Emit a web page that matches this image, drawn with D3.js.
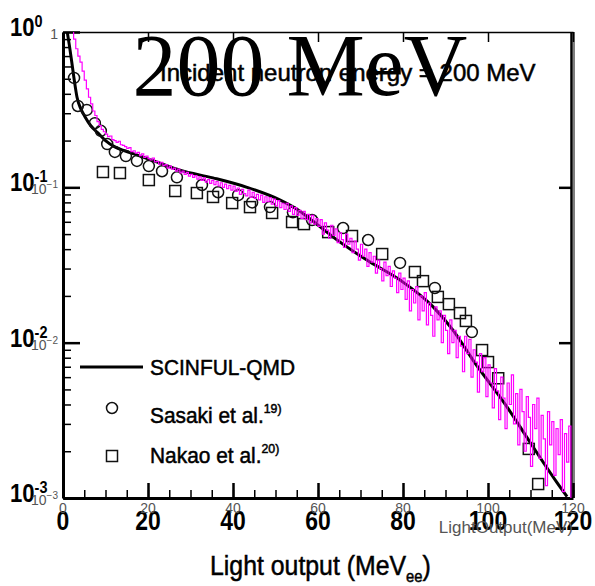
<!DOCTYPE html>
<html>
<head>
<meta charset="utf-8">
<script src="https://cdn.jsdelivr.net/npm/d3@7"></script>
<style>
  body { margin: 0; background: #fff; }
  text { font-family: "Liberation Sans", Arial, sans-serif; }
</style>
</head>
<body>
<div id="chart"></div>
<script>
// ---- data ----
// ROOT histogram (magenta), 0.5 MeV bins from 0 to 120 MeV
var binWidth = 0.5;
var magentaBins = [
  2.5, 2.0, 1.6, 1.3, 1.05, 0.90, 0.78, 0.70, 0.64, 0.56,
  0.49, 0.43, 0.38, 0.345, 0.31, 0.29, 0.265, 0.25, 0.236, 0.228,
  0.22, 0.212, 0.214, 0.203, 0.200, 0.195, 0.198, 0.188, 0.186, 0.183,
  0.178, 0.180, 0.170, 0.172, 0.166, 0.168, 0.160, 0.164, 0.156, 0.159,
  0.153, 0.150, 0.154, 0.146, 0.147, 0.141, 0.145, 0.138, 0.140, 0.133,
  0.137, 0.131, 0.133, 0.127, 0.131, 0.124, 0.127, 0.121, 0.125, 0.118,
  0.121, 0.116, 0.119, 0.113, 0.117, 0.111, 0.115, 0.108, 0.112, 0.106,
  0.111, 0.104, 0.109, 0.102, 0.107, 0.100, 0.105, 0.098, 0.103, 0.096,
  0.102, 0.094, 0.099, 0.090, 0.097, 0.091, 0.088, 0.096, 0.086, 0.093,
  0.085, 0.090, 0.083, 0.089, 0.080, 0.087, 0.081, 0.086, 0.078, 0.084,
  0.076, 0.082, 0.074, 0.079, 0.072, 0.079, 0.070, 0.076, 0.067, 0.074,
  0.066, 0.071, 0.063, 0.070, 0.062, 0.067, 0.059, 0.066, 0.058, 0.063,
  0.056, 0.062, 0.050, 0.059, 0.053, 0.047, 0.057, 0.049, 0.054, 0.044,
  0.051, 0.046, 0.041, 0.050, 0.043, 0.047, 0.038, 0.045, 0.040, 0.034,
  0.043, 0.036, 0.040, 0.031, 0.038, 0.033, 0.036, 0.028, 0.034, 0.030,
  0.025, 0.033, 0.027, 0.031, 0.023, 0.029, 0.026, 0.021, 0.028, 0.022,
  0.026, 0.019, 0.025, 0.016, 0.022, 0.018, 0.023, 0.014, 0.020, 0.016,
  0.021, 0.013, 0.018, 0.015, 0.011, 0.017, 0.014, 0.016, 0.010, 0.015,
  0.012, 0.0085, 0.014, 0.010, 0.012, 0.008, 0.011, 0.0095, 0.0065, 0.011,
  0.0085, 0.0105, 0.006, 0.009, 0.0075, 0.0048, 0.0085, 0.0065, 0.008, 0.0045,
  0.0072, 0.0055, 0.0038, 0.0068, 0.0049, 0.0032, 0.0060, 0.0044, 0.0028, 0.0055,
  0.0040, 0.0062, 0.0030, 0.0047, 0.0022, 0.0050, 0.0036, 0.0020, 0.0045, 0.0033,
  0.0016, 0.0040, 0.0028, 0.0044, 0.0018, 0.0034, 0.0024, 0.0012, 0.0036, 0.0022,
  0.0031, 0.0014, 0.0028, 0.0019, 0.0032, 0.0011, 0.0026, 0.0017, 0.0029, 0.0008
];

// SCINFUL-QMD (black curve)
var scinfulE = [1.0, 1.5, 2.1, 2.7, 3.3, 4.2, 5.2, 6.5, 8.2, 10, 12.2, 14.5, 17, 22, 27.5,
                35.3, 43.3, 51, 55.5, 59, 63.5, 71.5, 79.3, 87.1, 91.8, 96.5, 104.5, 110, 116.2, 118.6];
var scinfulY = [1.0, 0.82, 0.63, 0.48, 0.38, 0.32, 0.284, 0.25, 0.224, 0.20, 0.182, 0.172, 0.163, 0.146, 0.129,
                0.115, 0.100, 0.083, 0.071, 0.060, 0.048, 0.034, 0.0253, 0.017, 0.012, 0.0077, 0.00385, 0.00226, 0.00126, 0.00102];

// Sasaki et al. (circles)
var sasakiE = [2.6, 3.5, 5.6, 7.5, 8.9, 10.4, 12.2, 14.8, 17.4, 20.2, 23.3, 26.8, 32.7, 36.5, 41.2, 44.5,
               48.7, 54.1, 58.6, 65.9, 71.8, 79.3, 87.5, 96.2];
var sasakiY = [0.506, 0.334, 0.315, 0.259, 0.231, 0.190, 0.169, 0.159, 0.148, 0.137, 0.127, 0.116, 0.1035, 0.093, 0.089, 0.080,
               0.0746, 0.069, 0.0616, 0.0547, 0.0458, 0.0326, 0.0225, 0.0117];

// Nakao et al. (squares)
var nakaoE = [9.4, 13.4, 20.2, 26.4, 31.5, 35.3, 39.8, 44.0, 49.2, 53.9, 56.7, 62.4, 68.0, 75.1, 82.8, 84.7,
              88.2, 90.8, 93.4, 94.8, 98.6, 100.0, 102.4, 109.6, 111.8];
var nakaoY = [0.1255, 0.1236, 0.1114, 0.0947, 0.0919, 0.0867, 0.0792, 0.0746, 0.0684, 0.0598, 0.058, 0.0515, 0.0486, 0.0372, 0.0285, 0.0249,
              0.0197, 0.0177, 0.0155, 0.0138, 0.00896, 0.0075, 0.0059, 0.00207, 0.00123];

var xTicks = [0, 20, 40, 60, 80, 100, 120];
var xMinor = d3.range(0, 121, 5);
var yDecades = [1, 0.1, 0.01, 0.001];
var yExp = ["0", "-1", "-2", "-3"];
var rootExp = ["", "\u22121", "\u22122", "\u22123"];

// ---- layout ----
var margin = {top: 32, right: 22, bottom: 88, left: 63},
    width = 595 - margin.left - margin.right,
    height = 586 - margin.top - margin.bottom;

var svg = d3.select("#chart")
  .append("svg")
    .attr("width", 595)
    .attr("height", 586)
  .append("g")
    .attr("transform", "translate(" + margin.left + "," + margin.top + ")");

var x = d3.scaleLinear().domain([0, 120]).range([0, width]);
var y = d3.scaleLog().domain([1e-3, 1]).range([height, 0]);

svg.append("clipPath").attr("id", "clip")
  .append("rect").attr("x", 0).attr("y", 0).attr("width", width).attr("height", height);

// minor log ticks for the left axis
var yMinor = [];
[0.001, 0.01, 0.1].forEach(function(d) {
  for (var k = 2; k <= 9; k++) yMinor.push(d * k);
});

// scanned frame: bottom axis
svg.append("g")
  .attr("transform", "translate(0," + height + ")")
  .call(d3.axisBottom(x).tickValues(xMinor).tickSizeInner(-8).tickSizeOuter(0).tickFormat(""))
  .call(function(g) { g.select(".domain").attr("stroke-width", 3); })
  .selectAll(".tick line").attr("stroke-width", 1.5);
svg.append("g")
  .attr("transform", "translate(0," + height + ")")
  .call(d3.axisBottom(x).tickValues(xTicks).tickSizeInner(-15).tickSizeOuter(0).tickFormat(""))
  .call(function(g) { g.select(".domain").remove(); })
  .selectAll(".tick line").attr("stroke-width", 2.5);

// top axis
svg.append("g")
  .call(d3.axisTop(x).tickValues(xTicks).tickSizeInner(-10).tickSizeOuter(0).tickFormat(""))
  .call(function(g) { g.select(".domain").attr("stroke-width", 1.5); })
  .selectAll(".tick line").attr("stroke-width", 1.5);

// left axis
svg.append("g")
  .call(d3.axisLeft(y).tickValues(yMinor).tickSizeInner(-8).tickSizeOuter(0).tickFormat(""))
  .call(function(g) { g.select(".domain").attr("stroke-width", 3); })
  .selectAll(".tick line").attr("stroke-width", 1.5);
svg.append("g")
  .call(d3.axisLeft(y).tickValues(yDecades).tickSizeInner(-17).tickSizeOuter(0).tickFormat(""))
  .call(function(g) { g.select(".domain").remove(); })
  .selectAll(".tick line").attr("stroke-width", 2.5);

// right axis (double line)
svg.append("g")
  .attr("transform", "translate(" + (width - 2) + ",0)")
  .call(d3.axisRight(y).tickValues([0.1, 0.01]).tickSizeInner(-12).tickSizeOuter(0).tickFormat(""))
  .call(function(g) { g.select(".domain").attr("stroke-width", 2.5); })
  .selectAll(".tick line").attr("stroke-width", 2.5);
svg.append("line")
  .attr("x1", width + 1).attr("x2", width + 1).attr("y1", 0).attr("y2", height)
  .attr("stroke", "black").attr("stroke-width", 1);

// big scanned tick labels
svg.selectAll("bigx")
  .data(xTicks)
  .enter()
  .append("text")
    .attr("transform", function(d) { return "translate(" + x(d) + "," + (height + 32) + ") scale(0.85,1)"; })
    .attr("text-anchor", "middle")
    .style("font-size", "27px")
    .style("font-weight", "bold")
    .text(function(d) { return d; });

var bigY = svg.selectAll("bigy")
  .data(yDecades)
  .enter()
  .append("text")
    .attr("transform", function(d) { return "translate(-53," + (y(d) + 4) + ") scale(0.85,1)"; })
    .style("font-size", "26px")
    .style("font-weight", "bold");
bigY.append("tspan").text("10");
bigY.append("tspan")
  .attr("dy", -9)
  .style("font-size", "17px")
  .text(function(d, i) { return yExp[i]; });

// ROOT tick labels (small, grey)
svg.selectAll("rootx")
  .data(xTicks)
  .enter()
  .append("text")
    .attr("x", function(d) { return x(d); })
    .attr("y", height + 15)
    .attr("text-anchor", "middle")
    .style("font-size", "14px")
    .style("fill", "#555")
    .text(function(d) { return d; });

var rootY = svg.selectAll("rooty")
  .data(yDecades)
  .enter()
  .append("text")
    .attr("x", -5)
    .attr("y", function(d) { return y(d) + 7; })
    .attr("text-anchor", "end")
    .style("font-size", "14px")
    .style("fill", "#555");
rootY.append("tspan").text(function(d, i) { return i === 0 ? "1" : "10"; });
rootY.append("tspan")
  .attr("dy", -6)
  .style("font-size", "10px")
  .text(function(d, i) { return rootExp[i]; });

// ---- scanned marks ----
var plot = svg.append("g").attr("clip-path", "url(#clip)");

var scinful = scinfulE.map(function(e, i) { return [e, scinfulY[i]]; });
plot.append("path")
  .datum(scinful)
  .attr("fill", "none")
  .attr("stroke", "black")
  .attr("stroke-width", 3)
  .attr("d", d3.line()
    .x(function(d) { return x(d[0]); })
    .y(function(d) { return y(d[1]); })
    .curve(d3.curveMonotoneX));

plot.selectAll("mycircle")
  .data(sasakiE)
  .enter()
  .append("circle")
    .attr("cx", function(d) { return x(d); })
    .attr("cy", function(d, i) { return y(sasakiY[i]); })
    .attr("r", 5.5)
    .attr("fill", "none")
    .attr("stroke", "#111")
    .attr("stroke-width", 1.5);

plot.selectAll("mysquare")
  .data(nakaoE)
  .enter()
  .append("rect")
    .attr("x", function(d) { return x(d) - 5.5; })
    .attr("y", function(d, i) { return y(nakaoY[i]) - 5.5; })
    .attr("width", 11)
    .attr("height", 11)
    .attr("fill", "none")
    .attr("stroke", "#111")
    .attr("stroke-width", 1.5);

// ---- ROOT histogram on top ----
var hist = magentaBins.map(function(v, i) { return [i * binWidth, v]; });
hist.push([120, magentaBins[magentaBins.length - 1]]);
plot.append("path")
  .datum(hist)
  .attr("fill", "none")
  .attr("stroke", "#ff00ff")
  .attr("stroke-width", 1.2)
  .attr("d", d3.line()
    .x(function(d) { return x(d[0]); })
    .y(function(d) { return y(Math.max(d[1], 1e-4)); })
    .curve(d3.curveStepAfter));

// ---- legend ----
svg.append("line")
  .attr("x1", 17).attr("x2", 80).attr("y1", 335).attr("y2", 335)
  .attr("stroke", "black").attr("stroke-width", 3);
svg.append("circle")
  .attr("cx", 49).attr("cy", 376).attr("r", 5.5)
  .attr("fill", "none").attr("stroke", "#111").attr("stroke-width", 1.5);
svg.append("rect")
  .attr("x", 43.5).attr("y", 418.5).attr("width", 11).attr("height", 11)
  .attr("fill", "none").attr("stroke", "#111").attr("stroke-width", 1.5);

var legendText = [["SCINFUL-QMD", ""], ["Sasaki et al.", "19)"], ["Nakao et al.", "20)"]];
var legend = svg.selectAll("legtext")
  .data(legendText)
  .enter()
  .append("text")
    .attr("transform", function(d, i) { return "translate(87," + [343, 391, 431][i] + ") scale(0.95,1)"; })
    .style("font-size", "22px")
    .style("stroke", "#000")
    .style("stroke-width", 0.5);
legend.append("tspan").text(function(d) { return d[0]; });
legend.append("tspan")
  .attr("dy", -10)
  .style("font-size", "13px")
  .text(function(d) { return d[1]; });

// ---- titles ----
svg.append("text")
  .attr("x", 97)
  .attr("y", 49)
  .style("font-size", "24px")
  .style("stroke", "#000")
  .style("stroke-width", 0.5)
  .text("Incident neutron energy = 200 MeV");

svg.append("text")
  .attr("x", 237)
  .attr("y", 63)
  .attr("text-anchor", "middle")
  .style("font-family", "'Liberation Serif', 'Times New Roman', serif")
  .style("font-size", "88px")
  .text("200 MeV");

var xt = svg.append("text")
  .attr("transform", "translate(147," + (height + 77) + ") scale(0.92,1)")
  .style("font-size", "27px")
  .style("stroke", "#000")
  .style("stroke-width", 0.5);
xt.append("tspan").text("Light output (MeV");
xt.append("tspan").attr("dy", 7).style("font-size", "16px").text("ee");
xt.append("tspan").attr("dy", -7).text(")");

svg.append("text")
  .attr("x", width)
  .attr("y", height + 35)
  .attr("text-anchor", "end")
  .style("font-size", "17px")
  .style("fill", "#555")
  .text("LightOutput(MeV)");
</script>
</body>
</html>
